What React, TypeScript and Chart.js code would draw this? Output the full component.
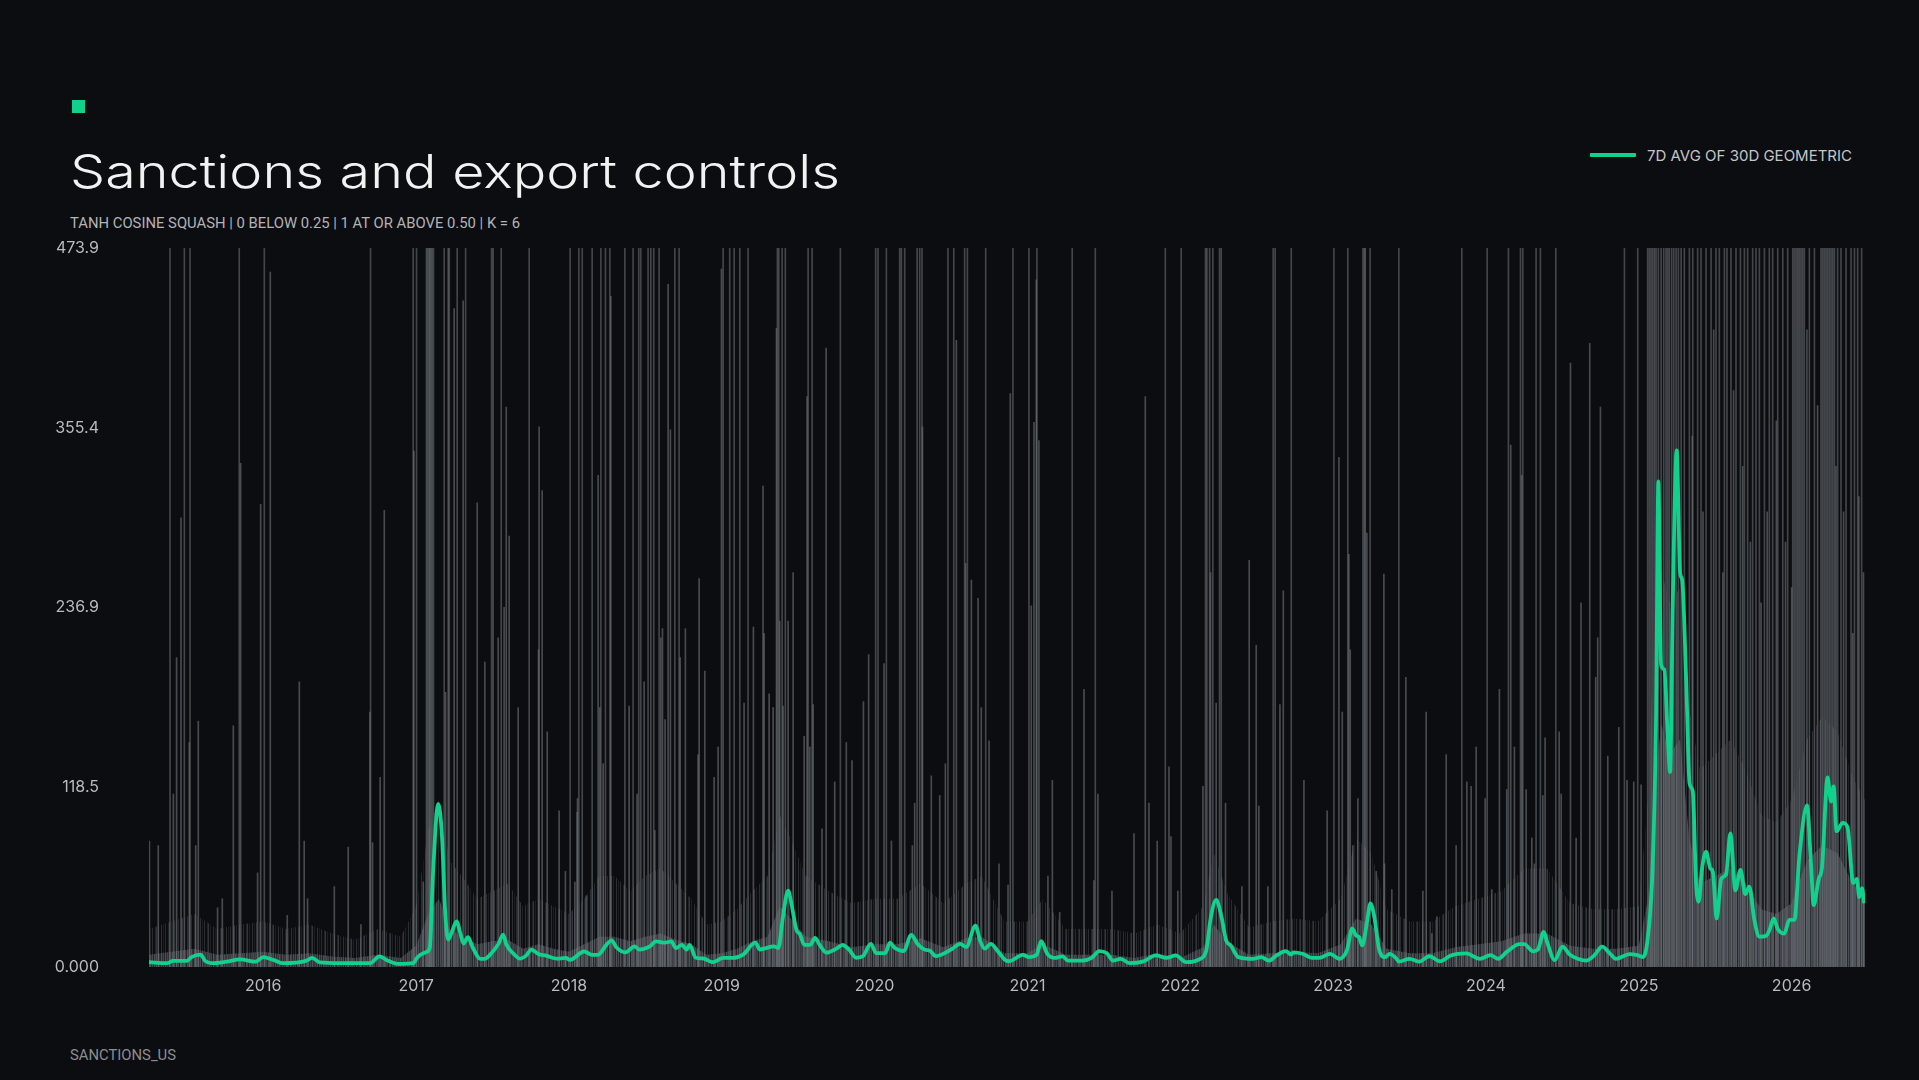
import React, { useEffect, useLayoutEffect, useRef, useState } from "react";
import { Chart, registerables } from "chart.js";

Chart.register(...registerables);

// ---------- axis ----------
const X_MIN = 2015.2525;
const X_MAX = 2026.48;
const Y_MAX = 473.9;
const yearTicks = [2016, 2017, 2018, 2019, 2020, 2021, 2022, 2023, 2024, 2025, 2026];
const yTickValues = [0, 118.5, 236.9, 355.4, 473.9];
const yTickLabels = ["0.000", "118.5", "236.9", "355.4", "473.9"];

// ---------- 7D AVG OF 30D GEOMETRIC ----------
const avgYears = [
  2015.25, 2015.37, 2015.41, 2015.5, 2015.53, 2015.59, 2015.62, 2015.66, 2015.76, 2015.85, 2015.95,
  2016.0, 2016.07, 2016.13, 2016.28, 2016.32, 2016.37, 2016.5, 2016.7, 2016.76, 2016.81, 2016.89, 2016.98,
  2017.01, 2017.07, 2017.09, 2017.11, 2017.145, 2017.17, 2017.19, 2017.21, 2017.23, 2017.265, 2017.29,
  2017.31, 2017.34, 2017.37, 2017.42, 2017.45, 2017.49, 2017.54, 2017.57, 2017.59, 2017.64, 2017.68,
  2017.72, 2017.755, 2017.8, 2017.85, 2017.92, 2017.98,
  2018.006, 2018.1, 2018.15, 2018.19, 2018.25, 2018.28, 2018.31, 2018.37, 2018.43, 2018.46, 2018.53,
  2018.57, 2018.63, 2018.67, 2018.7, 2018.74, 2018.77, 2018.79, 2018.83, 2018.88, 2018.94,
  2019.01, 2019.07, 2019.14, 2019.22, 2019.25, 2019.29, 2019.34, 2019.37, 2019.4, 2019.434, 2019.456,
  2019.49, 2019.51, 2019.54, 2019.58, 2019.61, 2019.64, 2019.685, 2019.75, 2019.79, 2019.83, 2019.88,
  2019.925, 2019.975,
  2020.01, 2020.07, 2020.1, 2020.13, 2020.19, 2020.24, 2020.28, 2020.33, 2020.36, 2020.4, 2020.46,
  2020.51, 2020.56, 2020.6, 2020.66, 2020.69, 2020.72, 2020.76, 2020.81, 2020.85, 2020.88, 2020.97,
  2021.01, 2021.06, 2021.09, 2021.13, 2021.18, 2021.23, 2021.265, 2021.36, 2021.42, 2021.47, 2021.52,
  2021.56, 2021.61, 2021.67, 2021.755, 2021.84, 2021.91, 2021.97,
  2022.04, 2022.13, 2022.17, 2022.2, 2022.235, 2022.27, 2022.3, 2022.33, 2022.38, 2022.475, 2022.53,
  2022.58, 2022.63, 2022.69, 2022.725, 2022.74, 2022.8, 2022.86, 2022.91, 2022.98,
  2023.04, 2023.09, 2023.125, 2023.15, 2023.17, 2023.19, 2023.22, 2023.244, 2023.27, 2023.3, 2023.34,
  2023.37, 2023.41, 2023.43, 2023.5, 2023.565, 2023.63, 2023.7, 2023.77, 2023.87, 2023.96,
  2024.03, 2024.08, 2024.14, 2024.22, 2024.25, 2024.31, 2024.34, 2024.378, 2024.4, 2024.45, 2024.5,
  2024.55, 2024.6, 2024.655, 2024.71, 2024.76, 2024.81, 2024.85, 2024.94, 2024.99,
  2025.026, 2025.058, 2025.091, 2025.113, 2025.128, 2025.146, 2025.167, 2025.189, 2025.205, 2025.222,
  2025.248, 2025.27, 2025.284, 2025.31, 2025.332, 2025.353, 2025.375, 2025.392, 2025.414, 2025.44,
  2025.468, 2025.484, 2025.51, 2025.539, 2025.571, 2025.599, 2025.632, 2025.665, 2025.697, 2025.723,
  2025.756, 2025.789, 2025.833, 2025.854, 2025.883, 2025.909, 2025.952, 2025.985,
  2026.018, 2026.051, 2026.101, 2026.127, 2026.144, 2026.177, 2026.199, 2026.235, 2026.258, 2026.275,
  2026.294, 2026.334, 2026.366, 2026.403, 2026.427, 2026.442, 2026.46, 2026.475,
];
const avgValues = [
  3.2, 2.5, 4, 4, 6.5, 8.2, 4, 2.5, 3.5, 5, 3.5,
  6.5, 4.5, 2.5, 4, 6, 3, 2.5, 2.5, 7, 4.5, 2, 2.5,
  6.5, 10, 13, 60, 107.5, 85, 37, 18, 22, 30, 22,
  15.5, 19.6, 13, 5.4, 5.4, 8.7, 15.4, 21.4, 15, 8.5, 5.5,
  7.5, 11.5, 8.5, 7.5, 5.5, 6,
  4.7, 10.2, 8, 8, 15.3, 17.5, 13, 9.7, 13.6, 11.5, 13.6,
  16.9, 16, 16.9, 12.5, 14.6, 11.5, 14.6, 6.1, 5.6, 3.2,
  6, 6, 8.2, 16, 11.5, 12.5, 13.6, 12.5, 32.8, 50.4, 41.6,
  24, 21.9, 14.6, 14.6, 19.2, 14.6, 9.5, 12.1, 14.6, 11.8, 6.1,
  7.2, 15.3,
  9.2, 9.2, 16, 12.7, 10.5, 21.2, 15.3, 11.4, 10.9, 7.2, 9.2,
  12.1, 15.3, 13.2, 27.3, 17.5, 12.1, 15.3, 9.9, 5, 3.8, 8,
  6.5, 8, 17, 8.7, 6, 7, 4.2, 4.2, 6, 10.5, 9,
  4.2, 5.4, 2.5, 3.5, 7.6, 6, 7.6,
  3.2, 5.4, 10.9, 32.8, 44.3, 32.8, 17.5, 14.2, 6.5, 5.4, 6.5,
  4.2, 7.6, 10.5, 8.3, 9.7, 8.7, 6, 6, 8.7,
  5.4, 10.9, 25.2, 20.8, 19.7, 14.2, 28.4, 42, 32.8, 12, 6.5,
  8.7, 6, 3.6, 5.4, 3.6, 7.1, 3.7, 7.6, 9, 5.4,
  7.8, 5.4, 10.3, 15.1, 15.1, 10.3, 11.5, 23.2, 16.5, 4.5, 13.4,
  8, 5.4, 4.2, 7.8, 13.4, 9, 5.4, 8.5, 7.8,
  6.6, 18.8, 67.5, 165, 320, 199, 196, 153, 128.5, 238,
  340.5, 260, 255, 189, 121, 116, 55, 43, 65, 76,
  65, 63, 32, 58, 61, 88, 50.5, 64, 48, 53,
  31, 20, 20.5, 24, 32, 25, 22, 31,
  31, 73.6, 106.5, 67, 40.8, 58, 66, 125, 109, 119,
  89.5, 95, 92, 55.3, 58, 46, 52, 42,
];

// ---------- daily values: dense lower mass (core level and upper field of short lines) ----------
const massYears = [
  2015.25, 2015.4, 2015.55, 2015.7, 2015.85, 2016.0, 2016.15, 2016.3, 2016.45, 2016.6, 2016.75, 2016.9,
  2017.0, 2017.08, 2017.15, 2017.22, 2017.3, 2017.4, 2017.5, 2017.6, 2017.7, 2017.8, 2017.9,
  2018.0, 2018.1, 2018.2, 2018.3, 2018.4, 2018.5, 2018.6, 2018.7, 2018.8, 2018.9,
  2019.0, 2019.1, 2019.2, 2019.3, 2019.38, 2019.45, 2019.55, 2019.7, 2019.85,
  2020.0, 2020.15, 2020.3, 2020.45, 2020.6, 2020.7, 2020.85,
  2021.0, 2021.1, 2021.25, 2021.4, 2021.55, 2021.7, 2021.85,
  2022.0, 2022.15, 2022.22, 2022.3, 2022.45, 2022.6, 2022.75, 2022.9,
  2023.05, 2023.15, 2023.25, 2023.35, 2023.5, 2023.65, 2023.8, 2023.95,
  2024.1, 2024.25, 2024.4, 2024.55, 2024.7, 2024.85,
  2025.0, 2025.06, 2025.1, 2025.15, 2025.2, 2025.27, 2025.33, 2025.4, 2025.5, 2025.6, 2025.7, 2025.8, 2025.9,
  2026.0, 2026.1, 2026.2, 2026.3, 2026.4, 2026.48,
];
const coreValues = [
  8, 10, 12, 8, 9, 10, 8, 9, 7, 6, 8, 6,
  14, 35, 45, 25, 20, 15, 17, 18, 12, 15, 12,
  10, 15, 20, 20, 17, 20, 22, 18, 15, 8,
  9, 12, 17, 20, 40, 32, 20, 17, 13,
  15, 15, 19, 13, 19, 20, 9,
  9, 15, 8, 8, 8, 6, 9,
  6, 13, 28, 17, 8, 9, 10, 9,
  15, 32, 28, 12, 9, 9, 13, 15,
  17, 22, 22, 14, 12, 12,
  14, 45, 120, 160, 140, 150, 85, 55, 60, 65, 55, 38, 35,
  42, 70, 80, 75, 55, 45,
];
const fieldValues = [
  25, 30, 35, 25, 28, 30, 25, 28, 22, 18, 25, 20,
  40, 90, 110, 70, 60, 45, 50, 55, 40, 45, 40,
  35, 45, 60, 60, 50, 60, 65, 55, 45, 28,
  30, 38, 50, 60, 100, 85, 60, 50, 42,
  45, 45, 55, 42, 55, 60, 30,
  30, 45, 25, 25, 25, 22, 28,
  22, 40, 75, 50, 26, 30, 32, 30,
  45, 85, 75, 38, 30, 30, 40, 45,
  50, 65, 65, 42, 38, 38,
  40, 110, 220, 260, 240, 250, 170, 130, 140, 150, 130, 100, 95,
  110, 150, 165, 155, 125, 110,
];

// ---------- daily values: individual spikes ----------
const topSpikeYears = [
  2015.39, 2015.484, 2015.521, 2015.843, 2016.007, 2016.702, 2016.981, 2017.003, 2017.068, 2017.075,
  2017.084, 2017.09, 2017.097, 2017.105, 2017.114, 2017.184, 2017.21, 2017.217, 2017.269, 2017.324,
  2017.494, 2017.504, 2017.557, 2017.74, 2018.008,
  2018.065, 2018.087, 2018.152, 2018.209, 2018.239, 2018.268, 2018.366, 2018.42, 2018.457, 2018.47,
  2018.518, 2018.536, 2018.555, 2018.59, 2018.693, 2018.721, 2019.009, 2019.052, 2019.081, 2019.118,
  2019.172, 2019.364, 2019.373, 2019.395, 2019.416, 2019.565, 2019.591, 2019.776, 2020.007, 2020.022,
  2020.077, 2020.164, 2020.175, 2020.197, 2020.278, 2020.295, 2020.31, 2020.48, 2020.518, 2020.589,
  2020.607, 2020.727,
  2020.905, 2021.01, 2021.062, 2021.293, 2021.444, 2021.902, 2022.006, 2022.165, 2022.174, 2022.192,
  2022.213, 2022.257, 2022.268, 2022.608, 2022.621, 2022.726, 2023.005, 2023.096, 2023.195, 2023.205,
  2023.21, 2023.242, 2023.43,
  2023.842, 2024.008, 2024.147, 2024.226, 2024.241, 2024.328, 2024.356, 2024.457, 2024.906, 2024.993,
  2025.058, 2025.069, 2025.08, 2025.091, 2025.102, 2025.113, 2025.128, 2025.146, 2025.163, 2025.178,
  2025.189, 2025.2, 2025.215, 2025.229, 2025.244, 2025.259, 2025.277, 2025.298, 2025.331, 2025.353,
  2025.385, 2025.407, 2025.44, 2025.473, 2025.505, 2025.527, 2025.56, 2025.577, 2025.603, 2025.636,
  2025.665, 2025.691, 2025.712, 2025.745, 2025.767, 2025.789, 2025.822, 2025.854, 2025.876, 2025.909,
  2025.942, 2025.974, 2026.007, 2026.018, 2026.029, 2026.04, 2026.05, 2026.061, 2026.072, 2026.083,
  2026.116, 2026.149, 2026.192, 2026.203, 2026.214, 2026.225, 2026.236, 2026.247, 2026.258, 2026.269,
  2026.28, 2026.301, 2026.323, 2026.356, 2026.389, 2026.411, 2026.432, 2026.458,
];
const spikeYears = [
  2015.255, 2015.313, 2015.412, 2015.433, 2015.462, 2015.516, 2015.558, 2015.575, 2015.701, 2015.732,
  2015.804, 2015.852, 2015.963, 2015.983, 2016.046, 2016.157, 2016.236, 2016.268, 2016.29, 2016.465,
  2016.556, 2016.639, 2016.698, 2016.715, 2016.765, 2016.792, 2016.986, 2017.047, 2017.193, 2017.249,
  2017.308, 2017.4, 2017.45, 2017.537, 2017.576, 2017.59, 2017.609, 2017.668, 2017.801, 2017.805,
  2017.825, 2017.858, 2017.936, 2017.977, 2018.039, 2018.054,
  2018.056, 2018.115, 2018.191, 2018.202, 2018.224, 2018.274, 2018.394, 2018.446, 2018.492, 2018.562,
  2018.601, 2018.612, 2018.629, 2018.649, 2018.664, 2018.728, 2018.762, 2018.845, 2018.852, 2018.889,
  2018.95, 2018.976, 2018.998, 2019.146, 2019.207, 2019.27, 2019.277, 2019.31, 2019.336, 2019.358,
  2019.379, 2019.401, 2019.434, 2019.467, 2019.539, 2019.558, 2019.576, 2019.598, 2019.656, 2019.683,
  2019.739, 2019.815, 2019.852, 2019.927, 2019.961, 2020.062, 2020.11, 2020.247, 2020.262, 2020.313,
  2020.371, 2020.426, 2020.463, 2020.535, 2020.596, 2020.633, 2020.677, 2020.698, 2020.749, 2020.814,
  2020.873,
  2020.888, 2021.025, 2021.043, 2021.058, 2021.075, 2021.134, 2021.163, 2021.211, 2021.37, 2021.435,
  2021.461, 2021.553, 2021.697, 2021.771, 2021.795, 2021.849, 2021.926, 2021.939, 2021.984, 2022.148,
  2022.198, 2022.235, 2022.296, 2022.403, 2022.451, 2022.497, 2022.514, 2022.573, 2022.652, 2022.674,
  2022.809, 2022.961, 2023.038, 2023.06, 2023.103, 2023.112, 2023.129, 2023.162, 2023.221, 2023.282,
  2023.332, 2023.336, 2023.384, 2023.476, 2023.587, 2023.609, 2023.646, 2023.679,
  2023.74, 2023.805, 2023.875, 2023.903, 2023.936, 2023.995, 2024.038, 2024.088, 2024.136, 2024.162,
  2024.186, 2024.234, 2024.263, 2024.3, 2024.317, 2024.372, 2024.387, 2024.479, 2024.492, 2024.553,
  2024.59, 2024.622, 2024.679, 2024.718, 2024.731, 2024.749, 2024.797, 2024.869, 2024.923, 2024.967,
  2025.015, 2025.35, 2025.42, 2025.49, 2025.55, 2025.62, 2025.68, 2025.73, 2025.8, 2025.84, 2025.9,
  2025.96, 2026.0, 2026.1, 2026.17, 2026.29, 2026.34, 2026.4, 2026.44, 2026.47,
];
const spikeValues = [
  83, 80, 114, 204, 296, 148, 80, 162, 39, 45,
  159, 332, 62, 305, 458, 34, 188, 83, 45, 53,
  79, 28, 168, 82, 125, 301, 340, 56, 181, 434,
  439, 306, 201, 217, 237, 369, 284, 171, 209, 356,
  314, 155, 103, 63, 56, 102,
  111, 47, 324, 171, 134, 442, 172, 114, 188, 90,
  217, 223, 163, 450, 354, 204, 223, 140, 256, 195,
  125, 145, 460, 174, 224, 317, 220, 180, 171, 421,
  228, 172, 228, 260, 152, 376, 145, 173, 91, 408,
  122, 148, 136, 175, 206, 200, 83, 80, 108, 356,
  126, 113, 134, 413, 266, 255, 243, 171, 149, 68,
  54,
  378, 238, 359, 453, 347, 60, 123, 36, 183, 57,
  114, 50, 88, 376, 108, 83, 132, 86, 50, 119,
  260, 174, 108, 53, 268, 212, 106, 53, 173, 248,
  123, 103, 336, 168, 272, 209, 80, 111, 286, 63,
  259, 68, 51, 191, 50, 168, 22, 33,
  140, 80, 122, 119, 145, 111, 51, 183, 117, 344,
  145, 324, 117, 85, 68, 113, 151, 155, 114, 398,
  85, 240, 411, 191, 217, 369, 139, 158, 123, 122,
  120, 350, 300, 420, 260, 380, 330, 280, 240, 300, 360,
  280, 250, 420, 370, 330, 300, 220, 310, 260,
];

// ---------- text ----------
const TITLE = "Sanctions and export controls";
const SUBTITLE = "TANH COSINE SQUASH | 0 BELOW 0.25 | 1 AT OR ABOVE 0.50 | K = 6";
const LEGEND_LABEL = "7D AVG OF 30D GEOMETRIC";
const FOOTER = "SANCTIONS_US";

// ---------- style ----------
const BG = "#0c0d10";
const GREEN = "#12d18c";
const TICK_COLOR = "#b9babd";
const CORE_STRIPES = [0.85, 0.45, 0.75, 0.3, 0.9, 0.55, 0.4, 0.8, 0.5, 0.7, 0.35];
const FIELD_STRIPES = [0.55, 0, 0.25, 0, 0, 0.45, 0, 0.2, 0, 0.4, 0, 0, 0.3];

function stripePattern(ctx: CanvasRenderingContext2D, alphas: number[], rgb: string) {
  const c = document.createElement("canvas");
  c.width = alphas.length;
  c.height = 1;
  const pc = c.getContext("2d")!;
  alphas.forEach((a, i) => {
    pc.fillStyle = `rgba(${rgb},${a})`;
    pc.fillRect(i, 0, 1, 1);
  });
  return ctx.createPattern(c, "repeat");
}

function FitText(props: { text: string; width: number; style: React.CSSProperties }) {
  const ref = useRef<HTMLSpanElement>(null);
  const [extra, setExtra] = useState<React.CSSProperties>({});
  useLayoutEffect(() => {
    const el = ref.current;
    if (!el) return;
    const w = el.getBoundingClientRect().width;
    if (!w) return;
    setExtra({ transform: `scaleX(${props.width / w})`, transformOrigin: "left top" });
  }, []);
  return (
    <span ref={ref} style={{ display: "inline-block", whiteSpace: "nowrap", ...props.style, ...extra }}>
      {props.text}
    </span>
  );
}

export default function App() {
  const canvasRef = useRef<HTMLCanvasElement>(null);

  useEffect(() => {
    document.body.style.margin = "0";
    document.body.style.background = BG;
    const canvas = canvasRef.current;
    if (!canvas) return;
    const ctx = canvas.getContext("2d")!;
    const corePattern = stripePattern(ctx, CORE_STRIPES, "84,88,94");
    const fieldPattern = stripePattern(ctx, FIELD_STRIPES, "84,88,94");

    const tickFont = { family: "Inter", size: 16 };
    const chart = new Chart(canvas, {
      type: "line",
      data: {
        datasets: [
          {
            type: "line",
            label: LEGEND_LABEL,
            data: avgYears.map((x, i) => ({ x, y: avgValues[i] })),
            borderColor: GREEN,
            borderWidth: 3.8,
            pointRadius: 0,
            cubicInterpolationMode: "monotone",
            fill: false,
            order: 0,
          } as any,
          {
            type: "bar",
            label: "daily-top",
            data: topSpikeYears.map((x) => ({ x, y: Y_MAX })),
            backgroundColor: "rgba(112,116,122,0.55)",
            barThickness: 1,
            grouped: false,
            order: 1,
          } as any,
          {
            type: "bar",
            label: "daily",
            data: spikeYears.map((x, i) => ({ x, y: spikeValues[i] })),
            backgroundColor: "rgba(112,116,122,0.6)",
            barThickness: 1,
            grouped: false,
            order: 1,
          } as any,
          {
            type: "line",
            label: "daily-core",
            data: massYears.map((x, i) => ({ x, y: coreValues[i] })),
            borderWidth: 0,
            borderColor: "rgba(0,0,0,0)",
            backgroundColor: corePattern,
            pointRadius: 0,
            fill: "origin",
            tension: 0,
            order: 2,
          } as any,
          {
            type: "line",
            label: "daily-field",
            data: massYears.map((x, i) => ({ x, y: fieldValues[i] })),
            borderWidth: 0,
            borderColor: "rgba(0,0,0,0)",
            backgroundColor: fieldPattern,
            pointRadius: 0,
            fill: "origin",
            tension: 0,
            order: 3,
          } as any,
        ],
      },
      options: {
        animation: false,
        responsive: false,
        maintainAspectRatio: false,
        events: [],
        layout: { padding: { top: 48, right: 54, bottom: 13, left: 0 } },
        plugins: { legend: { display: false }, tooltip: { enabled: false } },
        scales: {
          x: {
            type: "linear",
            min: X_MIN,
            max: X_MAX,
            offset: false,
            grid: { display: false, drawTicks: false },
            border: { display: false },
            afterBuildTicks: (axis: any) => {
              axis.ticks = yearTicks.map((v) => ({ value: v }));
            },
            afterFit: (scale: any) => {
              scale.height = 40;
              scale.paddingLeft = 0;
              scale.paddingRight = 0;
            },
            ticks: {
              color: TICK_COLOR,
              font: tickFont,
              padding: 10,
              autoSkip: false,
              maxRotation: 0,
              callback: (v: any) => String(v),
            },
          },
          y: {
            type: "linear",
            min: 0,
            max: Y_MAX,
            grid: { display: false, drawTicks: false },
            border: { display: false },
            afterBuildTicks: (axis: any) => {
              axis.ticks = yTickValues.map((v) => ({ value: v }));
            },
            afterFit: (scale: any) => {
              scale.width = 149;
              scale.paddingTop = 0;
              scale.paddingBottom = 0;
            },
            ticks: {
              color: TICK_COLOR,
              font: tickFont,
              padding: 50,
              callback: (v: any) => {
                const i = yTickValues.indexOf(Number(v));
                return i >= 0 ? yTickLabels[i] : "";
              },
            },
          },
        },
      } as any,
    });
    return () => chart.destroy();
  }, []);

  return (
    <div
      style={{
        position: "absolute",
        left: 0,
        top: 0,
        width: 1919,
        height: 1080,
        background: BG,
        overflow: "hidden",
        fontFamily: "Inter, sans-serif",
      }}
    >
      <div style={{ position: "absolute", left: 72, top: 100, width: 13, height: 13, background: GREEN }} />
      <div style={{ position: "absolute", left: 70, top: 148, lineHeight: "46px", height: 46 }}>
        <FitText
          text={TITLE}
          width={770}
          style={{ fontFamily: "Inter", fontWeight: 300, fontSize: 46, color: "#f2f2f2", lineHeight: "46px" }}
        />
      </div>
      <div style={{ position: "absolute", left: 70, top: 215, lineHeight: "14px", height: 14 }}>
        <FitText
          text={SUBTITLE}
          width={450}
          style={{ fontFamily: "Roboto", fontSize: 14, color: "#b3b4b7", lineHeight: "14px" }}
        />
      </div>
      <div style={{ position: "absolute", left: 1590, top: 153, width: 46, height: 3.5, background: GREEN, borderRadius: 1 }} />
      <div style={{ position: "absolute", left: 1647, top: 147.5, lineHeight: "15px", height: 15 }}>
        <FitText
          text={LEGEND_LABEL}
          width={205}
          style={{ fontFamily: "Inter", fontSize: 15, color: "#c4c5c8", lineHeight: "15px" }}
        />
      </div>
      <canvas
        ref={canvasRef}
        width={1919}
        height={820}
        style={{ position: "absolute", left: 0, top: 200, width: 1919, height: 820 }}
      />
      <div style={{ position: "absolute", left: 70, top: 1047, lineHeight: "15px", height: 15 }}>
        <FitText
          text={FOOTER}
          width={106}
          style={{ fontFamily: "Roboto", fontSize: 15, color: "#8c8d90", lineHeight: "15px" }}
        />
      </div>
    </div>
  );
}
